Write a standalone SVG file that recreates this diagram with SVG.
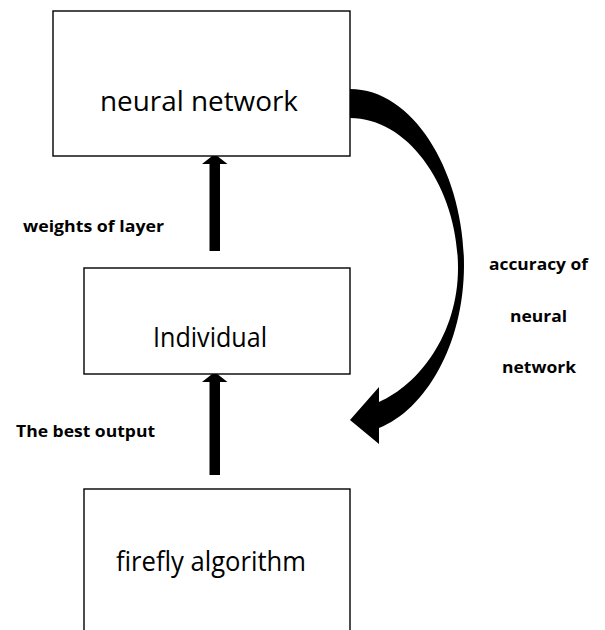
<svg xmlns="http://www.w3.org/2000/svg" width="605" height="630" viewBox="0 0 605 630">
<style>
.box{fill:#fff;stroke:#000;stroke-width:1.4}
.lbl{font-family:"Open Sans","DejaVu Sans",sans-serif;font-size:27px;fill:#000}
.bl{font-family:"Open Sans","DejaVu Sans",sans-serif;font-size:16.5px;font-weight:bold;fill:#000}
.arr{fill:#000;stroke:none}
</style>
<rect width="605" height="630" fill="#fff"/>
<g id="connectors">
<polygon class="arr" points="209.5,251 209.5,164 202,164 214.7,154 227.5,164 220,164 220,251"/>
<polygon class="arr" points="209.5,475 209.5,382 202,382 214.7,372 227.5,382 220,382 220,475"/>
<path class="arr" d="M350,89 C415,89 464,175 464,265 C464,345 425,410 379,428 L379,444 L350,420 L379,387 L379,402 C418,385 458,335 458,268 C458,190 410,118 350,118 Z"/>
</g>
<g id="neural-network">
<rect class="box" x="53" y="11" width="297" height="145"/>
<text class="lbl" x="100" y="111" textLength="198" lengthAdjust="spacingAndGlyphs">neural network</text>
</g>
<g id="individual">
<rect class="box" x="84" y="268" width="266" height="106"/>
<text class="lbl" x="153" y="347" textLength="114" lengthAdjust="spacingAndGlyphs">Individual</text>
</g>
<g id="firefly">
<rect class="box" x="84" y="489" width="266" height="200"/>
<text class="lbl" x="116" y="571" textLength="190" lengthAdjust="spacingAndGlyphs">firefly algorithm</text>
</g>
<g id="labels">
<text class="bl" x="23" y="232" textLength="141" lengthAdjust="spacingAndGlyphs">weights of layer</text>
<text class="bl" x="16" y="437" textLength="139" lengthAdjust="spacingAndGlyphs">The best output</text>
<text class="bl" x="489" y="270" textLength="99" lengthAdjust="spacingAndGlyphs">accuracy of</text>
<text class="bl" x="510" y="322" textLength="57" lengthAdjust="spacingAndGlyphs">neural</text>
<text class="bl" x="502" y="373" textLength="74" lengthAdjust="spacingAndGlyphs">network</text>
</g>
</svg>
